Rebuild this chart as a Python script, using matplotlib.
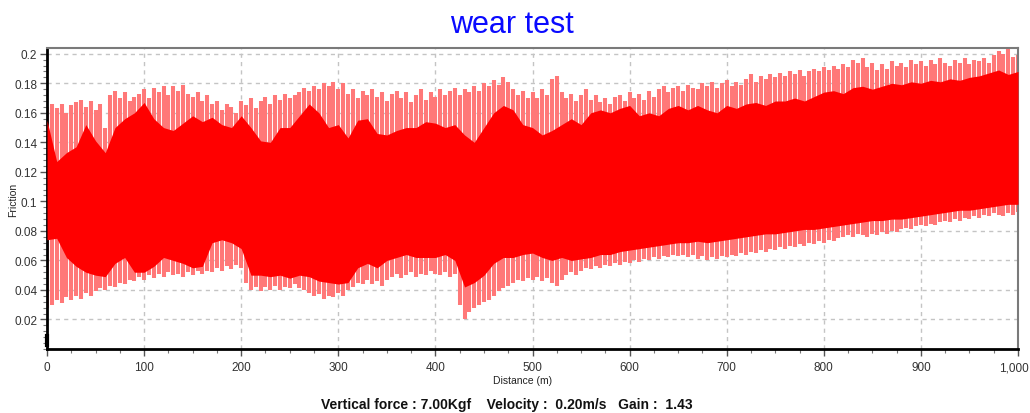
import numpy as np
import matplotlib
matplotlib.use("Agg")
import matplotlib.pyplot as plt
import matplotlib.transforms as mtransforms
from matplotlib.ticker import MultipleLocator, FuncFormatter

plt.rcParams['font.family'] = ['Liberation Sans', 'DejaVu Sans']

# ---------------- data ----------------
core_dist = list(range(0, 1001, 10))
core_hi = [0.155, 0.127, 0.133, 0.137, 0.152, 0.141, 0.133, 0.150, 0.156, 0.160,
           0.167, 0.156, 0.150, 0.148, 0.153, 0.158, 0.154, 0.157, 0.152, 0.150,
           0.158, 0.150, 0.141, 0.140, 0.150, 0.150, 0.158, 0.166, 0.160, 0.150,
           0.152, 0.143, 0.155, 0.156, 0.146, 0.145, 0.148, 0.150, 0.150, 0.154,
           0.153, 0.150, 0.152, 0.145, 0.140, 0.150, 0.160, 0.165, 0.162, 0.152,
           0.150, 0.145, 0.148, 0.152, 0.156, 0.152, 0.160, 0.162, 0.160, 0.163,
           0.165, 0.158, 0.160, 0.158, 0.163, 0.165, 0.162, 0.165, 0.162, 0.160,
           0.165, 0.163, 0.166, 0.167, 0.165, 0.168, 0.168, 0.170, 0.168, 0.171,
           0.174, 0.175, 0.173, 0.177, 0.178, 0.176, 0.178, 0.180, 0.179, 0.181,
           0.180, 0.182, 0.181, 0.183, 0.182, 0.184, 0.185, 0.187, 0.189, 0.186,
           0.188]
core_lo = [0.074, 0.075, 0.062, 0.056, 0.052, 0.050, 0.049, 0.058, 0.062, 0.052,
           0.052, 0.056, 0.062, 0.060, 0.058, 0.055, 0.056, 0.072, 0.074, 0.072,
           0.068, 0.050, 0.050, 0.049, 0.050, 0.048, 0.050, 0.049, 0.046, 0.045,
           0.044, 0.045, 0.055, 0.058, 0.055, 0.060, 0.062, 0.064, 0.062, 0.062,
           0.062, 0.064, 0.060, 0.042, 0.045, 0.050, 0.058, 0.062, 0.062, 0.064,
           0.065, 0.062, 0.060, 0.062, 0.060, 0.061, 0.062, 0.064, 0.064, 0.066,
           0.067, 0.068, 0.069, 0.070, 0.071, 0.072, 0.072, 0.073, 0.072, 0.073,
           0.074, 0.075, 0.076, 0.077, 0.078, 0.078, 0.079, 0.080, 0.081, 0.081,
           0.082, 0.083, 0.084, 0.085, 0.086, 0.087, 0.087, 0.088, 0.088, 0.089,
           0.090, 0.091, 0.092, 0.093, 0.094, 0.094, 0.095, 0.096, 0.097, 0.098,
           0.098]

spike_dist = list(range(0, 1001, 5))
spike_hi = [0.164, 0.166, 0.163, 0.166, 0.160, 0.165, 0.167, 0.169, 0.164, 0.168,
            0.162, 0.166, 0.150, 0.172, 0.175, 0.170, 0.174, 0.168, 0.171, 0.173,
            0.176, 0.170, 0.177, 0.174, 0.178, 0.172, 0.178, 0.175, 0.179, 0.173,
            0.171, 0.174, 0.168, 0.172, 0.166, 0.168, 0.162, 0.166, 0.164, 0.160,
            0.168, 0.165, 0.170, 0.163, 0.168, 0.171, 0.166, 0.172, 0.169, 0.173,
            0.170, 0.172, 0.174, 0.177, 0.175, 0.178, 0.176, 0.180, 0.178, 0.181,
            0.176, 0.180, 0.173, 0.176, 0.170, 0.175, 0.172, 0.176, 0.171, 0.174,
            0.168, 0.173, 0.175, 0.170, 0.174, 0.167, 0.172, 0.176, 0.169, 0.174,
            0.171, 0.176, 0.172, 0.175, 0.177, 0.172, 0.176, 0.174, 0.178, 0.175,
            0.180, 0.178, 0.182, 0.179, 0.184, 0.181, 0.176, 0.172, 0.175, 0.170,
            0.174, 0.170, 0.176, 0.172, 0.183, 0.185, 0.174, 0.170, 0.173, 0.168,
            0.172, 0.176, 0.169, 0.172, 0.167, 0.170, 0.166, 0.171, 0.172, 0.168,
            0.174, 0.170, 0.173, 0.169, 0.175, 0.171, 0.176, 0.178, 0.174, 0.177,
            0.178, 0.175, 0.179, 0.177, 0.176, 0.180, 0.178, 0.181, 0.177, 0.180,
            0.182, 0.178, 0.181, 0.179, 0.183, 0.186, 0.181, 0.185, 0.183, 0.186,
            0.184, 0.187, 0.185, 0.188, 0.186, 0.189, 0.185, 0.188, 0.190, 0.188,
            0.191, 0.189, 0.192, 0.190, 0.193, 0.191, 0.196, 0.194, 0.197, 0.191,
            0.194, 0.189, 0.193, 0.190, 0.195, 0.192, 0.194, 0.191, 0.196, 0.193,
            0.195, 0.192, 0.196, 0.193, 0.197, 0.194, 0.192, 0.196, 0.194, 0.197,
            0.193, 0.196, 0.195, 0.197, 0.194, 0.199, 0.202, 0.200, 0.203, 0.198,
            0.199]
spike_lo = [0.028, 0.030, 0.033, 0.031, 0.035, 0.033, 0.036, 0.034, 0.038, 0.036,
            0.039, 0.041, 0.040, 0.043, 0.042, 0.045, 0.044, 0.047, 0.046, 0.049,
            0.047, 0.050, 0.048, 0.051, 0.049, 0.052, 0.050, 0.051, 0.049, 0.052,
            0.050, 0.053, 0.051, 0.053, 0.052, 0.055, 0.053, 0.056, 0.054, 0.057,
            0.055, 0.045, 0.040, 0.042, 0.039, 0.042, 0.040, 0.043, 0.040, 0.042,
            0.041, 0.044, 0.041, 0.040, 0.038, 0.036, 0.037, 0.034, 0.036, 0.035,
            0.038, 0.036, 0.040, 0.042, 0.045, 0.044, 0.047, 0.044, 0.046, 0.043,
            0.047, 0.049, 0.051, 0.048, 0.050, 0.052, 0.049, 0.051, 0.050, 0.053,
            0.051, 0.050, 0.052, 0.049, 0.051, 0.030, 0.020, 0.025, 0.028, 0.030,
            0.032, 0.033, 0.036, 0.039, 0.041, 0.043, 0.045, 0.047, 0.046, 0.048,
            0.047, 0.049, 0.046, 0.048, 0.045, 0.043, 0.047, 0.050, 0.052, 0.050,
            0.053, 0.055, 0.054, 0.056, 0.055, 0.057, 0.056, 0.058, 0.057, 0.059,
            0.058, 0.060, 0.059, 0.061, 0.060, 0.062, 0.061, 0.063, 0.062, 0.064,
            0.063, 0.064, 0.062, 0.064, 0.061, 0.063, 0.060, 0.062, 0.061, 0.063,
            0.062, 0.064, 0.063, 0.065, 0.064, 0.066, 0.065, 0.067, 0.066, 0.068,
            0.067, 0.069, 0.068, 0.070, 0.069, 0.071, 0.070, 0.072, 0.071, 0.073,
            0.072, 0.074, 0.073, 0.075, 0.076, 0.077, 0.076, 0.078, 0.077, 0.076,
            0.078, 0.077, 0.079, 0.078, 0.080, 0.079, 0.081, 0.082, 0.081, 0.083,
            0.084, 0.083, 0.085, 0.084, 0.086, 0.087, 0.086, 0.088, 0.087, 0.089,
            0.088, 0.090, 0.089, 0.091, 0.090, 0.092, 0.091, 0.090, 0.092, 0.091,
            0.093]

x_ticks = [0, 100, 200, 300, 400, 500, 600, 700, 800, 900, 1000]
y_ticks = [0.02, 0.04, 0.06, 0.08, 0.1, 0.12, 0.14, 0.16, 0.18, 0.2]

title = "wear test"
x_label = "Distance (m)"
y_label = "Friction"
footer = "Vertical force : 7.00Kgf    Velocity :  0.20m/s   Gain :  1.43"

# ---------------- figure ----------------
W, H = 1030, 414
fig = plt.figure(figsize=(W / 100, H / 100), dpi=100)
ax = fig.add_axes([47 / W, 1 - 350 / H, (1018 - 47) / W, (350 - 49) / H])

ax.set_xlim(0, 1000)
ax.set_ylim(0, 0.2039)

# grid
ax.grid(True, which='major', color='#c4c4c4', linestyle=(0, (3, 3)), linewidth=1.0)
ax.set_axisbelow(True)

# spikes (light)
ax.vlines(spike_dist, spike_lo, spike_hi, colors='#ff7878', linewidth=2.9, zorder=2)
# dense core
ax.fill_between(core_dist, core_lo, core_hi, color='#ff0000', linewidth=0, zorder=3)

# small black start mark
ax.plot([0, 0], [0.003, 0.009], color='black', linewidth=3, zorder=4, clip_on=False)

# ticks
ax.set_xticks(x_ticks)
ax.set_yticks(y_ticks)
ax.xaxis.set_minor_locator(MultipleLocator(25))
ax.yaxis.set_minor_locator(MultipleLocator(0.004))
ax.xaxis.set_major_formatter(FuncFormatter(lambda v, p: f"{int(v):,}"))
ax.yaxis.set_major_formatter(FuncFormatter(lambda v, p: f"{v:g}"))
ax.tick_params(axis='both', which='major', labelsize=8.5, labelcolor='#333333',
               color='#555555', length=5, width=1)
ax.tick_params(axis='both', which='minor', color='#777777', length=3, width=0.8)
ax.tick_params(axis='x', pad=4)
ax.tick_params(axis='y', pad=2)

for side in ('left', 'bottom'):
    ax.spines[side].set_color('black')
    ax.spines[side].set_linewidth(2.0)
for side in ('top', 'right'):
    ax.spines[side].set_color('#7a7a7a')
    ax.spines[side].set_linewidth(1.5)

ax.set_xlabel(x_label, fontsize=7.5, color='#222222')
ax.set_ylabel(y_label, fontsize=7.5, color='#222222')
ax.xaxis.set_label_coords((523 - 47) / (1018 - 47), (350 - 381) / (350 - 49))
ax.yaxis.set_label_coords((13 - 47) / (1018 - 47), (350 - 200) / (350 - 49))
ax.xaxis.label.set_va('center')
ax.yaxis.label.set_va('center')

# keep the last x tick label ("1,000") inside the canvas
fig.canvas.draw()
last_lbl = ax.get_xticklabels()[-1]
last_lbl.set_transform(last_lbl.get_transform() +
                       mtransforms.ScaledTranslation(-4 / 100, 0, fig.dpi_scale_trans))

fig.text(512 / W, 1 - 25 / H, title, color='#0a0aff', fontsize=22,
         ha='center', va='center')
fig.text(507 / W, 1 - 405 / H, footer, color='#111111', fontsize=10,
         fontweight='bold', ha='center', va='center')

fig.savefig('out.png', dpi=100)
